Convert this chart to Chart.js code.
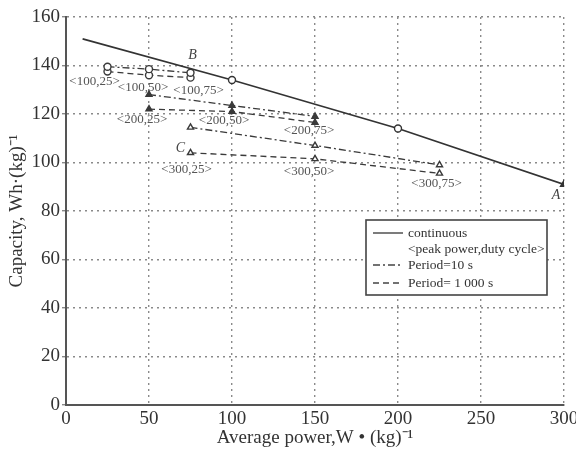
<!DOCTYPE html>
<html>
<head>
<meta charset="utf-8">
<script src="https://cdn.jsdelivr.net/npm/chart.js@4.4.1/dist/chart.umd.min.js"></script>
<style>
  html, body { margin: 0; padding: 0; background: #fff; }
  #wrap { width: 576px; height: 454px; }
</style>
</head>
<body>
<div id="wrap"><canvas id="chart-capacity" width="576" height="454"></canvas></div>
<script>
// continuous discharge
const contPower = [10, 100, 200, 300];
const contCapacity = [151, 134, 114, 91];

// average power for each peak power (duty cycle 25, 50, 75 %)
const power100 = [25, 50, 75];
const power200 = [50, 100, 150];
const power300 = [75, 150, 225];

// Period = 10 s
const cap100Period10 = [139.5, 138.5, 137];
const cap200Period10 = [128, 123.5, 119];
const cap300Period10 = [114.5, 107, 99];

// Period = 1 000 s
const cap100Period1000 = [137.5, 136, 135];
const cap200Period1000 = [122, 121, 116.5];
const cap300Period1000 = [104, 101.5, 95.5];

const xTicks = [0, 50, 100, 150, 200, 250, 300];
const yTicks = [0, 20, 40, 60, 80, 100, 120, 140, 160];

// <peak power,duty cycle> labels, anchored at the point they name
const pointLabels = ['<100,25>', '<100,50>', '<100,75>', '<200,25>', '<200,50>', '<200,75>', '<300,25>', '<300,50>', '<300,75>'];
const pointLabelX = [25, 50, 75, 50, 100, 150, 75, 150, 225];
const pointLabelY = [137.5, 136, 135, 122, 121, 116.5, 104, 101.5, 95.5];
const letterLabels = ['B', 'C', 'A'];
const letterX = [75, 75, 300];
const letterY = [137, 104, 91];

const toPoints = (xs, ys) => xs.map((x, i) => ({x: x, y: ys[i]}));

const lineColor = '#3a3a3a';
const dashDot = [7, 3, 2, 3];
const dashed = [6, 4];

function series(label, xs, ys, dash, style, fill) {
  return {
    label: label,
    data: toPoints(xs, ys),
    showLine: true,
    borderColor: lineColor,
    borderWidth: 1.3,
    borderDash: dash,
    pointStyle: style,
    pointRadius: 3.5,
    pointBorderWidth: 1.4,
    pointBorderColor: lineColor,
    pointBackgroundColor: fill
  };
}

const datasets = [
  {
    label: 'continuous',
    data: toPoints(contPower, contCapacity),
    showLine: true,
    borderColor: '#333',
    borderWidth: 1.7,
    pointStyle: ['circle', 'circle', 'circle', 'triangle'],
    pointRadius: [0, 3.5, 3.5, 4],
    pointBorderWidth: 1.4,
    pointBorderColor: '#333',
    pointBackgroundColor: ['#fff', '#fff', '#fff', '#333']
  },
  series('Period=10 s', power100, cap100Period10, dashDot, 'circle', '#fff'),
  series('Period= 1 000 s', power100, cap100Period1000, dashed, 'circle', '#fff'),
  series('Period=10 s', power200, cap200Period10, dashDot, 'triangle', lineColor),
  series('Period= 1 000 s', power200, cap200Period1000, dashed, 'triangle', lineColor),
  series('Period=10 s', power300, cap300Period10, dashDot, 'triangle', '#fff'),
  series('Period= 1 000 s', power300, cap300Period1000, dashed, 'triangle', '#fff')
];

// pixel offsets of the annotation texts from their anchor points
const labelOffsets = [[-13, 10], [-6, 12], [8, 13], [-7, 10], [-8, 9], [-6, 8], [-4, 17], [-6, 13], [-3, 10]];
const letterOffsets = [[2, -17], [-10, -4], [-8, 11]];

const annotationPlugin = {
  id: 'annotations',
  afterDatasetsDraw(chart) {
    const ctx = chart.ctx;
    const xs = chart.scales.x, ys = chart.scales.y;
    ctx.save();
    ctx.textAlign = 'center';
    ctx.textBaseline = 'middle';
    ctx.fillStyle = '#555';
    ctx.font = '13px "Liberation Serif", serif';
    pointLabels.forEach((t, i) => {
      const px = xs.getPixelForValue(pointLabelX[i]) + labelOffsets[i][0];
      const py = ys.getPixelForValue(pointLabelY[i]) + labelOffsets[i][1];
      ctx.fillText(t, px, py);
    });
    ctx.font = 'italic 14px "Liberation Serif", serif';
    ctx.fillStyle = '#444';
    letterLabels.forEach((t, i) => {
      const px = xs.getPixelForValue(letterX[i]) + letterOffsets[i][0];
      const py = ys.getPixelForValue(letterY[i]) + letterOffsets[i][1];
      ctx.fillText(t, px, py);
    });
    ctx.restore();
  },
  afterDraw(chart) {
    // legend box in lower right of the plot
    const ctx = chart.ctx;
    const area = chart.chartArea;
    const left = area.right - 198, top = area.top + 203;
    const w = 181, h = 75;
    ctx.save();
    ctx.fillStyle = '#fff';
    ctx.fillRect(left, top, w, h);
    ctx.strokeStyle = '#444';
    ctx.lineWidth = 1.6;
    ctx.strokeRect(left, top, w, h);
    ctx.font = '13.5px "Liberation Serif", serif';
    ctx.fillStyle = '#333';
    ctx.textBaseline = 'middle';
    const rows = [
      {text: 'continuous', y: 13, dash: []},
      {text: '<peak power,duty cycle>', y: 29, dash: null},
      {text: 'Period=10 s', y: 45, dash: dashDot},
      {text: 'Period= 1 000 s', y: 63, dash: dashed}
    ];
    rows.forEach(r => {
      if (r.dash) {
        ctx.beginPath();
        ctx.setLineDash(r.dash);
        ctx.lineWidth = 1.4;
        ctx.moveTo(left + 7, top + r.y);
        ctx.lineTo(left + 37, top + r.y);
        ctx.stroke();
        ctx.setLineDash([]);
      }
      ctx.fillText(r.text, left + 42, top + r.y);
    });
    ctx.restore();
  }
};

const tickFont = {family: '"Liberation Serif", serif', size: 19};
const titleFont = {family: '"Liberation Serif", serif', size: 19};
const gridColor = '#8a8a8a';

new Chart(document.getElementById('chart-capacity').getContext('2d'), {
  type: 'scatter',
  data: {datasets: datasets},
  options: {
    responsive: false,
    animation: false,
    layout: {padding: {top: 17, right: 12, left: 0, bottom: 0}},
    plugins: {
      legend: {display: false},
      tooltip: {enabled: false}
    },
    scales: {
      x: {
        type: 'linear',
        min: 0,
        max: 300,
        afterBuildTicks: s => { s.ticks = xTicks.map(v => ({value: v})); },
        afterFit: s => { s.height = 49; s.paddingRight = 12; s.paddingLeft = 0; },
        ticks: {font: tickFont, color: '#333', padding: 3, maxRotation: 0},
        grid: {color: gridColor, lineWidth: 1.4, drawTicks: false},
        border: {color: '#555', width: 2, dash: [2, 4]},
        title: {display: true, text: 'Average power,W • (kg)⁻¹', font: titleFont, color: '#333', padding: {top: 0, bottom: 5}}
      },
      y: {
        type: 'linear',
        min: 0,
        max: 160,
        afterBuildTicks: s => { s.ticks = yTicks.map(v => ({value: v})); },
        afterFit: s => { s.width = 66; },
        ticks: {font: tickFont, color: '#333', padding: 2},
        grid: {color: gridColor, lineWidth: 1.4, tickLength: 4},
        border: {color: '#555', width: 2, dash: [2, 4]},
        title: {display: true, text: 'Capacity, Wh·(kg)⁻¹', font: titleFont, color: '#333', padding: {top: 6, bottom: 0}}
      }
    }
  },
  plugins: [annotationPlugin]
});
</script>
</body>
</html>
